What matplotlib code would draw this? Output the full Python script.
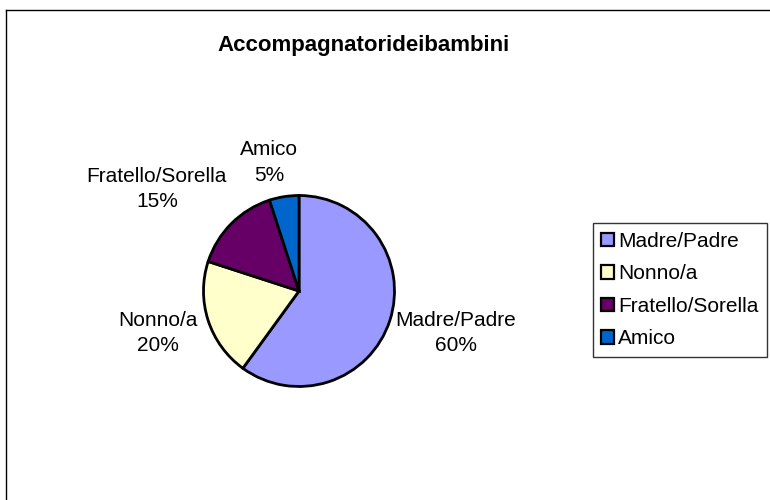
import numpy as np
import matplotlib
matplotlib.use("Agg")
import matplotlib.pyplot as plt
from matplotlib.lines import Line2D
from matplotlib.patches import Patch

categories = ["Madre/Padre", "Nonno/a", "Fratello/Sorella", "Amico"]
values = [60, 20, 15, 5]
colors = ["#9999FF", "#FFFFCC", "#660066", "#0066CC"]
title = "Accompagnatorideibambini"

# label placement (distance in radii, angle in degrees)
label_pos = [(1.70, -14.9), (1.54, -163.5), (1.83, 144.4), (1.38, 103.1)]

plt.rcParams['font.family'] = ['Liberation Sans', 'DejaVu Sans']

W, H = 770, 500
fig = plt.figure(figsize=(W / 100, H / 100), dpi=100)

# outer border (top and left visible)
fig.add_artist(Line2D([6 / W, 1], [1 - 10 / H, 1 - 10 / H], transform=fig.transFigure, color="black", lw=1.0))
fig.add_artist(Line2D([6 / W, 6 / W], [0, 1 - 10 / H], transform=fig.transFigure, color="black", lw=1.0))

cx, cy, R = 299, 291, 95.5
half = 150
ax = fig.add_axes([(cx - half) / W, (H - cy - half) / H, 2 * half / W, 2 * half / H])
wedges, _ = ax.pie(values, colors=colors, startangle=90, counterclock=False,
                   radius=1.0, wedgeprops=dict(edgecolor="black", linewidth=2.0))
lim = half / R
ax.set_xlim(-lim, lim)
ax.set_ylim(-lim, lim)
ax.set_aspect("equal")
ax.axis("off")

total = sum(values)
for cat, v, (d, a) in zip(categories, values, label_pos):
    t = np.deg2rad(a)
    ax.text(d * np.cos(t), d * np.sin(t), f"{cat}\n{round(100 * v / total)}%",
            ha="center", va="center", fontsize=15, linespacing=1.42)

fig.text(364 / W, 1 - 45 / H, title, ha="center", va="center", fontsize=16, fontweight="bold")

handles = [Patch(facecolor=c, edgecolor="black", linewidth=1.6) for c in colors]
leg = fig.legend(handles, categories, loc="center left",
                 bbox_to_anchor=(593 / W, 1 - 290 / H), fontsize=15,
                 frameon=True, fancybox=False, edgecolor="black",
                 handlelength=0.6, handleheight=0.6, handletextpad=0.2,
                 labelspacing=0.65, borderpad=0.4, borderaxespad=0)
leg.get_frame().set_linewidth(1.0)

fig.savefig("out.png", dpi=100)
